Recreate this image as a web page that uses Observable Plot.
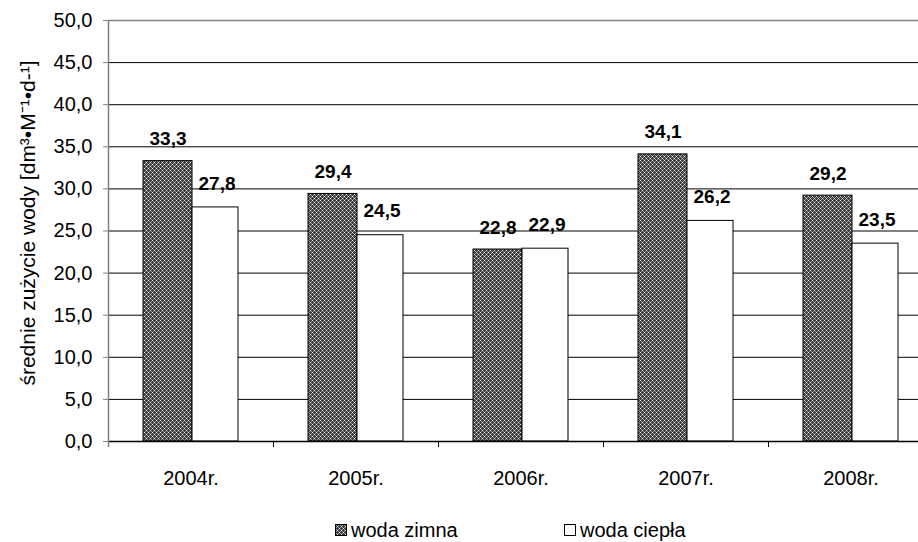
<!DOCTYPE html>
<html><head><meta charset="utf-8">
<script src="https://cdn.jsdelivr.net/npm/d3@7"></script>
<script src="https://cdn.jsdelivr.net/npm/@observablehq/plot@0.6"></script>
<style>
html,body{margin:0;padding:0;background:#fff;overflow:hidden;}
body{font-family:"Liberation Sans",Arial,sans-serif;width:918px;height:542px;position:relative;}
#legend{position:absolute;top:0;left:0;width:918px;height:542px;pointer-events:none;}
.item{position:absolute;top:519px;font-size:20px;line-height:22px;color:#000;display:flex;align-items:center;white-space:nowrap;}
.item svg{margin-right:4px;}
</style>
</head><body>
<svg width="0" height="0" style="position:absolute">
  <defs>
    <pattern id="hatch" patternUnits="userSpaceOnUse" width="4" height="4">
      <rect width="4" height="4" fill="#3a3a3a"/>
      <rect x="0" y="0" width="1" height="1" fill="#eee"/>
      <rect x="2" y="2" width="1" height="1" fill="#eee"/>
      <rect x="1" y="1" width="1" height="1" fill="#999"/>
      <rect x="3" y="3" width="1" height="1" fill="#999"/>
      <rect x="1" y="3" width="1" height="1" fill="#999"/>
      <rect x="3" y="1" width="1" height="1" fill="#999"/>
    </pattern>
  </defs>
</svg>
<div id="chart"></div>
<div id="legend"></div>
<script>
const years = ["2004r.", "2005r.", "2006r.", "2007r.", "2008r."];
const coldWater = [33.3, 29.4, 22.8, 34.1, 29.2];
const hotWater = [27.8, 24.5, 22.9, 26.2, 23.5];
const yTicks = [0, 5, 10, 15, 20, 25, 30, 35, 40, 45, 50];
const seriesNames = ["woda zimna", "woda ciepła"];
const yLabel = "średnie zużycie wody [dm³•M⁻¹•d-¹]";

const fmt = d => d.toFixed(1).replace(".", ",");
const x0 = 108, x1 = 933;
const step = (x1 - x0) / years.length;

const chart = Plot.plot({
  width: 918,
  height: 500,
  marginLeft: 108,
  marginRight: 0,
  marginTop: 20,
  marginBottom: 59,
  style: {fontFamily: '"Liberation Sans", Arial, sans-serif', fontSize: "20px", color: "black", background: "white"},
  x: {type: "band", domain: years, range: [x0, x1], padding: 0, axis: null},
  y: {domain: [0, 50], axis: null},
  marks: [
    Plot.ruleY(yTicks.filter(d => d > 0 && d < 50), {y: d => d, stroke: "black", strokeWidth: 1}),
    Plot.ruleY([50], {y: d => d, stroke: "#808080", strokeWidth: 1.5}),
    Plot.barY(years, {x: years, y: coldWater, fill: "url(#hatch)", stroke: "black", strokeWidth: 1, insetLeft: 35, insetRight: 81}),
    Plot.barY(years, {x: years, y: hotWater, fill: "white", stroke: "black", strokeWidth: 1, insetLeft: 84, insetRight: 35}),
    Plot.ruleY([0], {y: d => d, stroke: "black", strokeWidth: 1.5}),
    Plot.ruleX(years, {x: d => d, dx: -step / 2, y1: 0, y2: 0, insetBottom: -6, stroke: "black"}),
    Plot.ruleX([years[0]], {x: d => d, dx: -step / 2, y1: 50, y2: 0, insetBottom: -6, stroke: "#808080", strokeWidth: 1.5}),
    Plot.axisY({ticks: yTicks, tickSize: 5, tickPadding: 11, tickFormat: fmt, stroke: "#808080", fill: "black", fontSize: 20}),
    Plot.text(years, {x: d => d, y: 0, dy: 37, text: d => d, fill: "black", fontSize: 20, lineAnchor: "middle"}),
    Plot.text(years, {x: years, y: coldWater, text: coldWater.map(fmt), dx: -23, dy: -22, fontWeight: "bold", fontSize: 19, fill: "black", lineAnchor: "middle"}),
    Plot.text(years, {x: years, y: hotWater, text: hotWater.map(fmt), dx: 26, dy: -24, fontWeight: "bold", fontSize: 19, fill: "black", lineAnchor: "middle"}),
    Plot.text([yLabel], {frameAnchor: "left", dx: -80, dy: -8, text: d => d, rotate: -90, fill: "black", fontSize: 21, lineAnchor: "middle", textAnchor: "middle"})
  ]
});
document.getElementById("chart").appendChild(chart);

const legend = document.getElementById("legend");
const legendLeft = [335, 564];
const legendFill = ["url(#hatch)", "white"];
seriesNames.forEach((name, i) => {
  const item = document.createElement("div");
  item.className = "item";
  item.style.left = legendLeft[i] + "px";
  item.innerHTML = `<svg width="12" height="12"><rect x="0.5" y="0.5" width="11" height="11" fill="${legendFill[i]}" stroke="black"/></svg><span>${name}</span>`;
  legend.appendChild(item);
});
</script>
</body></html>
